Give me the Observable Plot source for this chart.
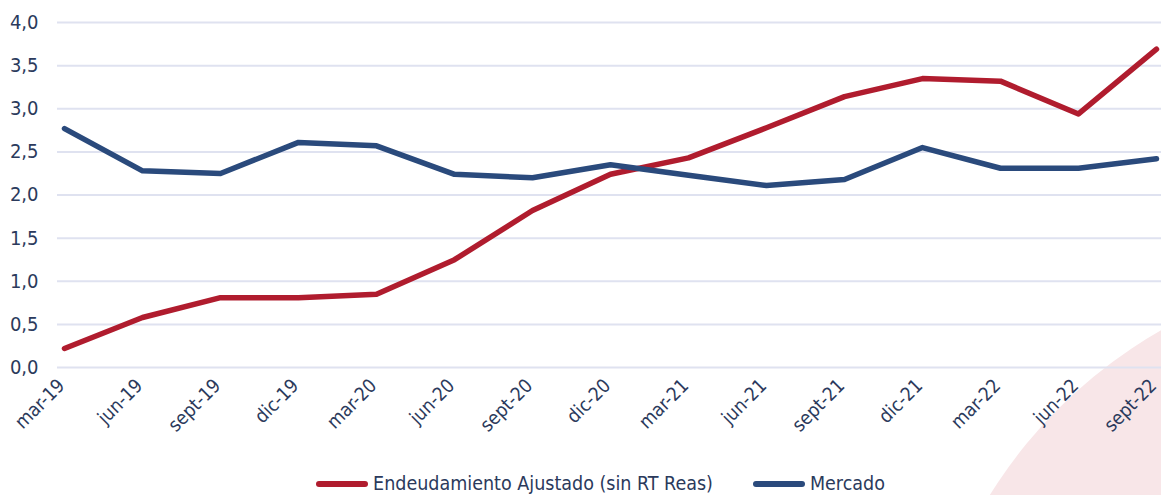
<!DOCTYPE html>
<html>
<head>
<meta charset="utf-8">
<script src="https://cdn.jsdelivr.net/npm/d3@7"></script>
<script src="https://cdn.jsdelivr.net/npm/@observablehq/plot@0.6"></script>
<style>
  html, body { margin: 0; padding: 0; background: #fff; }
  #wrap { position: relative; width: 1161px; height: 495px; overflow: hidden; }
  #blob { position: absolute; left: 917px; top: 267px; width: 966px; height: 966px; border-radius: 50%; background: #f8e6e8; z-index: 0; }
  #chart { position: absolute; left: 0; top: 0; z-index: 1; }
  #legend { position: absolute; left: 0; top: 471px; height: 26px; width: 1161px; box-sizing: border-box; padding-left: 40px; z-index: 1; display: flex; justify-content: center; align-items: center;
    font-family: "DejaVu Sans Condensed", "Noto Sans", sans-serif; font-size: 19.5px; line-height: 26px; color: #2b3a5c; }
  .item { display: flex; align-items: center; margin: 0 20px; }
  .sw { width: 52px; height: 6px; border-radius: 3px; margin-right: 5px; }
</style>
</head>
<body>
<div id="wrap">
  <div id="blob"></div>
  <div id="chart"></div>
  <div id="legend"></div>
</div>
<script>
const periods = ["mar-19","jun-19","sept-19","dic-19","mar-20","jun-20","sept-20","dic-20","mar-21","jun-21","sept-21","dic-21","mar-22","jun-22","sept-22"];
const endeudamiento = [0.22,0.58,0.81,0.81,0.85,1.25,1.82,2.24,2.43,2.78,3.14,3.35,3.32,2.94,3.69];
const mercado = [2.77,2.28,2.25,2.61,2.57,2.24,2.20,2.35,2.23,2.11,2.18,2.55,2.31,2.31,2.42];
const yTicks = [0,0.5,1,1.5,2,2.5,3,3.5,4];
const seriesNames = ["Endeudamiento Ajustado (sin RT Reas)", "Mercado"];
const seriesColors = ["#b01c2e", "#2a4a7c"];

const data = [
  ...periods.map((p, i) => ({period: p, value: endeudamiento[i], series: seriesNames[0]})),
  ...periods.map((p, i) => ({period: p, value: mercado[i], series: seriesNames[1]}))
];

const fmt = v => v.toFixed(1).replace(".", ",");

const plot = Plot.plot({
  width: 1161,
  height: 460,
  marginLeft: 57,
  marginRight: 0,
  marginTop: 22,
  marginBottom: 93,
  style: {background: "transparent", fontFamily: "'DejaVu Sans Condensed', sans-serif", fontSize: "19px", color: "#2b3a5c"},
  x: {type: "point", domain: periods, padding: 0, insetLeft: 4, insetRight: 2, label: null},
  y: {domain: [0, 4], label: null},
  color: {domain: seriesNames, range: seriesColors},
  marks: [
    Plot.ruleY(yTicks, {stroke: "#dfe2f0", strokeWidth: 2}),
    Plot.axisY({ticks: yTicks, tickFormat: fmt, tickSize: 0, tickPadding: 19, fill: "#2b3a5c", fontSize: 20}),
    Plot.axisX({tickSize: 0, tickRotate: -45, tickPadding: 15, dx: -3, fill: "#2b3a5c", fontSize: 19}),
    Plot.line(data, {x: "period", y: "value", z: "series", stroke: "series", strokeWidth: 5.5, strokeLinejoin: "round", strokeLinecap: "round"})
  ]
});
document.getElementById("chart").appendChild(plot);

const legend = document.getElementById("legend");
seriesNames.forEach((n, i) => {
  const it = document.createElement("div");
  it.className = "item";
  const sw = document.createElement("div");
  sw.className = "sw";
  sw.style.background = seriesColors[i];
  const t = document.createElement("span");
  t.textContent = n;
  it.appendChild(sw); it.appendChild(t);
  legend.appendChild(it);
});
</script>
</body>
</html>
